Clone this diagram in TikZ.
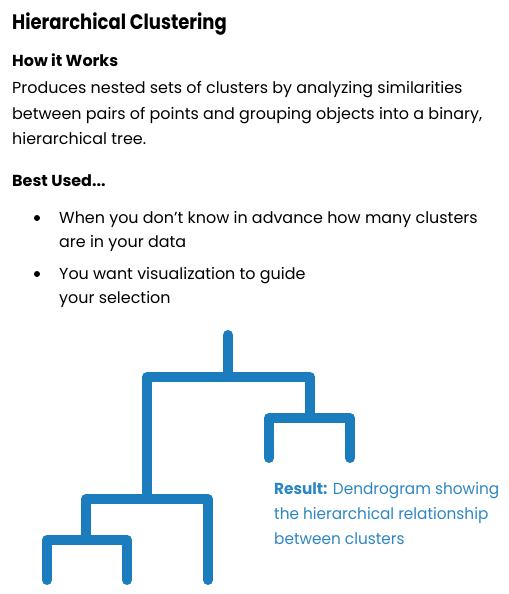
\documentclass[tikz,border=0pt]{standalone}
\usepackage{fontspec}
\setmainfont{Poppins}
\newfontfamily\titlefont[FakeStretch=0.86]{Poppins}
\newfontfamily\captionfont[FakeStretch=0.96]{Poppins}
\definecolor{dendro}{HTML}{1B7DBD}
\definecolor{resulttext}{HTML}{2D86C2}
\begin{document}
\begin{tikzpicture}[x=1bp,y=-1bp,
  txt/.style={anchor=base west,inner sep=0pt,font=\fontsize{16}{20}\selectfont},
  titletxt/.style={anchor=base west,inner sep=0pt,font=\titlefont\fontsize{21}{26}\selectfont\bfseries},
  headtxt/.style={anchor=base west,inner sep=0pt,font=\fontsize{16}{20}\selectfont\bfseries},
  restxt/.style={anchor=base west,inner sep=0pt,font=\captionfont\fontsize{16}{20}\selectfont,text=resulttext},
  bulletdot/.style={circle,fill=black,inner sep=0pt,minimum size=6bp},
  branch/.style={draw=dendro,line width=10bp,line cap=round,line join=round}]
\useasboundingbox (0,0) rectangle (509,594);

% headings and description
\node[titletxt] (title) at (12,30) {Hierarchical Clustering};
\node[headtxt] (how) at (12,67) {How it Works};
\node[txt] (d1) at (12,94) {Produces nested sets of clusters by analyzing similarities};
\node[txt] (d2) at (12,120) {between pairs of points and grouping objects into a binary,};
\node[txt] (d3) at (12,145) {hierarchical tree.};
\node[headtxt] (best) at (12,186) {Best Used...};

% bullet list
\node[bulletdot] (b1) at (37,218) {};
\node[txt] (u1a) at (59,223) {When you don’t know in advance how many clusters};
\node[txt] (u1b) at (59,247) {are in your data};
\node[bulletdot] (b2) at (37,274) {};
\node[txt] (u2a) at (59,279) {You want visualization to guide};
\node[txt] (u2b) at (59,303) {your selection};

% dendrogram
\coordinate (top) at (228,335);
\coordinate (jroot) at (228,377);
\coordinate (jleft) at (147,499);
\coordinate (jright) at (310,418);
\coordinate (jll) at (86,540);
\coordinate (leafA) at (47,580);
\coordinate (leafB) at (127,580);
\coordinate (leafC) at (208,580);
\coordinate (leafD) at (269,458);
\coordinate (leafE) at (350,458);

\draw[branch] (top) -- (jroot);
\draw[branch] (jleft) |- (jroot) -| (jright);
\draw[branch] (jll) |- (jleft) -| (leafC);
\draw[branch] (leafA) |- (jll) -| (leafB);
\draw[branch] (leafD) |- (jright) -| (leafE);

% caption
\node[restxt] (r1) at (274,494) {\textbf{Result:} Dendrogram showing};
\node[restxt] (r2) at (274,519) {the hierarchical relationship};
\node[restxt] (r3) at (274,544) {between clusters};
\end{tikzpicture}
\end{document}
